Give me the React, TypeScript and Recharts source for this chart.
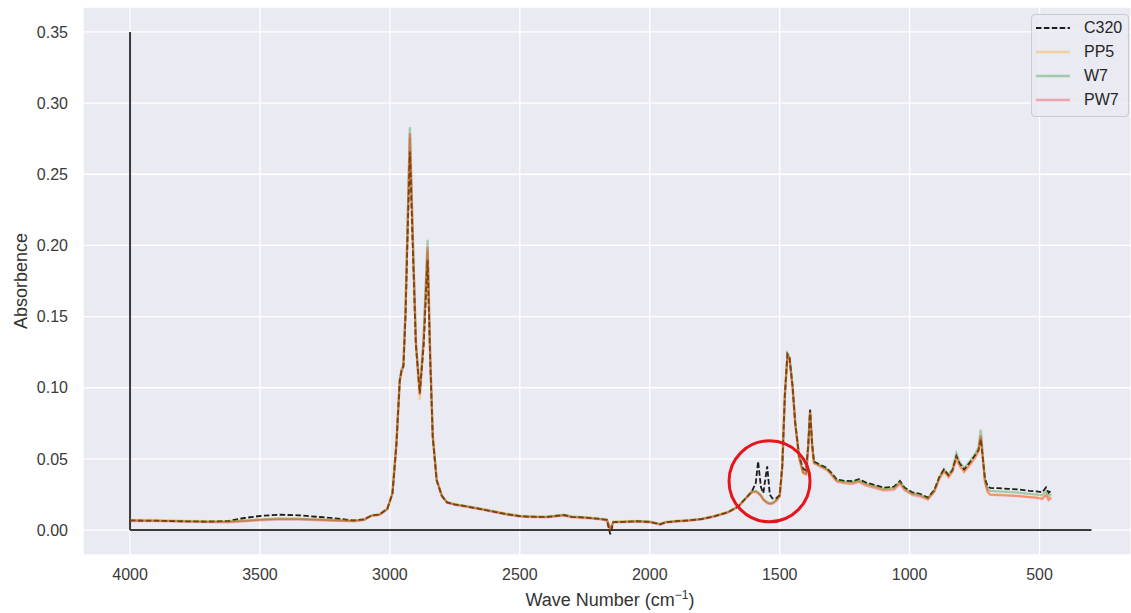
import React from 'react';
import {
  LineChart, Line, XAxis, YAxis, CartesianGrid, Legend, ReferenceLine, ReferenceDot, Label,
} from 'recharts';

// wave numbers (cm-1), high to low
const WAVE = [
  4000, 3900, 3800, 3700, 3620, 3560, 3500, 3430, 3350, 3270,
  3200, 3140, 3100, 3070, 3040, 3010, 2990, 2975, 2962, 2955,
  2948, 2940, 2930, 2923, 2912, 2900, 2885, 2870, 2855, 2845,
  2835, 2820, 2800, 2780, 2750, 2700, 2650, 2600, 2550, 2500,
  2450, 2400, 2330, 2300, 2250, 2200, 2165, 2152, 2140, 2100,
  2050, 2000, 1975, 1960, 1940, 1900, 1850, 1800, 1750, 1700,
  1660, 1630, 1608, 1592, 1583, 1572, 1563, 1548, 1538, 1528,
  1515, 1500, 1490, 1480, 1470, 1462, 1450, 1440, 1425, 1410,
  1398, 1390, 1383, 1375, 1368, 1358, 1340, 1320, 1300, 1280,
  1250, 1220, 1195, 1170, 1140, 1100, 1060, 1037, 1020, 990,
  960, 930, 905, 885, 868, 850, 835, 820, 808, 790,
  770, 750, 735, 726, 718, 710, 700, 690, 660, 620,
  580, 540, 510, 490, 475, 465, 455,
];

const C320 = [
  .0068, .0066, .0062, .0060, .0064, .0085, .0099, .0108, .0104, .0092,
  .0080, .0068, .0076, .0104, .0110, .0150, .0260, .0600, .1050, .1120,
  .1150, .1500, .2200, .2660, .2000, .1300, .0960, .1300, .1900, .1200,
  .0650, .0350, .0240, .0195, .0180, .0165, .0148, .0130, .0112, .0098,
  .0094, .0092, .0106, .0093, .0088, .0080, .0072, -.0030, .0056, .0058,
  .0062, .0058, .0048, .0040, .0055, .0062, .0068, .0078, .0098, .0125,
  .0165, .0225, .0268, .0330, .0483, .0300, .0260, .0448, .0250, .0222,
  .0220, .0245, .0450, .0950, .1235, .1210, .1000, .0750, .0520, .0430,
  .0420, .0600, .0846, .0600, .0480, .0472, .0455, .0438, .0400, .0355,
  .0346, .0343, .0358, .0335, .0320, .0298, .0305, .0345, .0300, .0265,
  .0255, .0228, .0280, .0375, .0425, .0385, .0420, .0520, .0470, .0425,
  .0470, .0520, .0560, .0640, .0500, .0360, .0310, .0296, .0295, .0290,
  .0285, .0276, .0272, .0265, .0300, .0262, .0280,
];

const PP5 = [
  .0072, .0071, .0067, .0063, .0061, .0068, .0076, .0082, .0081, .0076,
  .0071, .0067, .0075, .0104, .0110, .0150, .0262, .0600, .1040, .1110,
  .1140, .1520, .2260, .2760, .2040, .1300, .0915, .1320, .1960, .1220,
  .0660, .0350, .0242, .0197, .0182, .0167, .0151, .0133, .0115, .0101,
  .0097, .0095, .0108, .0096, .0091, .0083, .0075, .0010, .0060, .0062,
  .0065, .0061, .0051, .0044, .0058, .0065, .0071, .0081, .0101, .0128,
  .0168, .0226, .0268, .0272, .0262, .0242, .0215, .0192, .0185, .0188,
  .0205, .0238, .0445, .0940, .1225, .1200, .0990, .0740, .0505, .0400,
  .0390, .0590, .0830, .0595, .0470, .0462, .0445, .0428, .0390, .0345,
  .0335, .0332, .0345, .0322, .0307, .0286, .0292, .0335, .0288, .0255,
  .0244, .0220, .0272, .0365, .0410, .0372, .0410, .0500, .0450, .0405,
  .0450, .0500, .0550, .0655, .0490, .0340, .0275, .0252, .0250, .0246,
  .0241, .0234, .0230, .0222, .0250, .0215, .0232,
];

const W7 = [
  .0068, .0067, .0063, .0060, .0059, .0066, .0074, .0080, .0079, .0074,
  .0069, .0065, .0073, .0102, .0108, .0148, .0260, .0605, .1060, .1130,
  .1160, .1540, .2300, .2830, .2080, .1330, .0970, .1360, .2040, .1250,
  .0670, .0355, .0242, .0196, .0181, .0166, .0149, .0131, .0113, .0099,
  .0095, .0093, .0106, .0094, .0089, .0081, .0073, .0008, .0058, .0060,
  .0063, .0059, .0049, .0042, .0056, .0063, .0069, .0079, .0099, .0126,
  .0166, .0226, .0270, .0275, .0265, .0245, .0218, .0196, .0190, .0192,
  .0208, .0240, .0450, .0955, .1240, .1215, .1005, .0755, .0515, .0410,
  .0400, .0600, .0840, .0600, .0478, .0468, .0450, .0433, .0395, .0350,
  .0340, .0337, .0350, .0328, .0313, .0292, .0298, .0340, .0294, .0260,
  .0249, .0224, .0278, .0375, .0428, .0390, .0430, .0540, .0480, .0435,
  .0480, .0530, .0580, .0705, .0520, .0355, .0290, .0275, .0272, .0268,
  .0263, .0255, .0250, .0244, .0275, .0238, .0255,
];

const PW7 = [
  .0064, .0063, .0059, .0056, .0055, .0061, .0069, .0074, .0073, .0069,
  .0065, .0061, .0070, .0100, .0106, .0146, .0258, .0600, .1050, .1120,
  .1150, .1530, .2280, .2790, .2060, .1320, .0950, .1340, .1990, .1230,
  .0660, .0350, .0238, .0192, .0177, .0162, .0145, .0127, .0109, .0095,
  .0091, .0089, .0102, .0090, .0085, .0077, .0069, .0005, .0054, .0056,
  .0059, .0055, .0045, .0038, .0052, .0059, .0065, .0075, .0095, .0122,
  .0162, .0222, .0264, .0268, .0258, .0238, .0212, .0188, .0182, .0185,
  .0202, .0235, .0440, .0945, .1230, .1205, .0995, .0745, .0505, .0400,
  .0392, .0592, .0835, .0595, .0470, .0460, .0442, .0425, .0385, .0340,
  .0328, .0324, .0338, .0314, .0298, .0278, .0283, .0325, .0280, .0247,
  .0236, .0214, .0268, .0362, .0412, .0374, .0412, .0510, .0455, .0410,
  .0455, .0505, .0555, .0665, .0495, .0335, .0268, .0248, .0246, .0242,
  .0238, .0231, .0226, .0218, .0245, .0210, .0228,
];

const X_TICKS = [4000, 3500, 3000, 2500, 2000, 1500, 1000, 500];
const Y_TICKS = [0, 0.05, 0.1, 0.15, 0.2, 0.25, 0.3, 0.35];

const SERIES = [
  { key: 'C320', color: '#1c1c1c', opacity: 1, width: 1.8, dash: '5.5 2.4' },
  { key: 'PP5', color: '#ffa500', opacity: 0.35, width: 2.3, dash: undefined },
  { key: 'W7', color: '#008000', opacity: 0.3, width: 2.3, dash: undefined },
  { key: 'PW7', color: '#ff0000', opacity: 0.3, width: 2.3, dash: undefined },
];

const data = WAVE.map((w, i) => ({
  wave: w, C320: C320[i], PP5: PP5[i], W7: W7[i], PW7: PW7[i],
}));

const FONT = '"Liberation Sans", Arial, sans-serif';

function SpectraLegend() {
  return (
    <div style={{
      width: 98, height: 103, boxSizing: 'border-box', border: '1px solid #cccccc',
      borderRadius: 4, background: 'rgba(234,234,242,0.8)', paddingTop: 1,
      fontFamily: FONT, fontSize: 16, color: '#262626',
    }}>
      {SERIES.map(s => (
        <div key={s.key} style={{ display: 'flex', alignItems: 'center', height: 24 }}>
          <svg width={48} height={24} style={{ marginLeft: 4, flex: 'none' }}>
            <line x1={0} x2={34} y1={12} y2={12} stroke={s.color} strokeOpacity={s.opacity}
              strokeWidth={s.width} strokeDasharray={s.dash} />
          </svg>
          <span>{s.key}</span>
        </div>
      ))}
    </div>
  );
}

export default function App() {
  return (
    <div style={{ position: 'absolute', left: 0, top: 0, background: '#fff' }}>
      <LineChart width={1131} height={613} data={data} margin={{ top: 7, right: 0, bottom: 0, left: 0 }}>
        <CartesianGrid stroke="#ffffff" strokeWidth={1.3} fill="#eaeaf2" fillOpacity={1} />
        <XAxis dataKey="wave" type="number" domain={[148, 4181]} reversed allowDataOverflow
          ticks={X_TICKS} axisLine={false} tickLine={false} tickMargin={8} height={58}
          tick={{ fontSize: 16, fill: '#3a3a3a', fontFamily: FONT }}>
          <Label content={() => (
            <text x={610} y={606} textAnchor="middle" fontSize={18} fill="#333" fontFamily={FONT}>
              Wave Number (cm<tspan dy={-7} fontSize={12}>−1</tspan><tspan dy={7}>)</tspan>
            </text>
          )} />
        </XAxis>
        <YAxis type="number" domain={[-0.0175, 0.3675]} allowDataOverflow ticks={Y_TICKS}
          tickFormatter={(v: number) => v.toFixed(2)} axisLine={false} tickLine={false}
          tickMargin={9} width={83} tick={{ fontSize: 16, fill: '#3a3a3a', fontFamily: FONT }}>
          <Label content={() => (
            <text transform="translate(27,281) rotate(-90)" textAnchor="middle" fontSize={18}
              fill="#333" fontFamily={FONT}>Absorbence</text>
          )} />
        </YAxis>
        <ReferenceLine segment={[{ x: 4000, y: 0 }, { x: 4000, y: 0.35 }]} stroke="#3a3a3a" strokeWidth={2} />
        <ReferenceLine segment={[{ x: 4000, y: 0 }, { x: 300, y: 0 }]} stroke="#3a3a3a" strokeWidth={2} />
        {SERIES.map(s => (
          <Line key={s.key} dataKey={s.key} type="linear" stroke={s.color} strokeOpacity={s.opacity}
            strokeWidth={s.width} strokeDasharray={s.dash} dot={false} activeDot={false}
            isAnimationActive={false} />
        ))}
        <ReferenceDot x={1539} y={0.0343} r={40.5} fill="none" stroke="#e8141c" strokeWidth={3} />
        <Legend layout="horizontal" align="center" verticalAlign="middle" content={() => <SpectraLegend />}
          wrapperStyle={{ left: 1031, top: 14, width: 98, height: 103 }} />
      </LineChart>
    </div>
  );
}
